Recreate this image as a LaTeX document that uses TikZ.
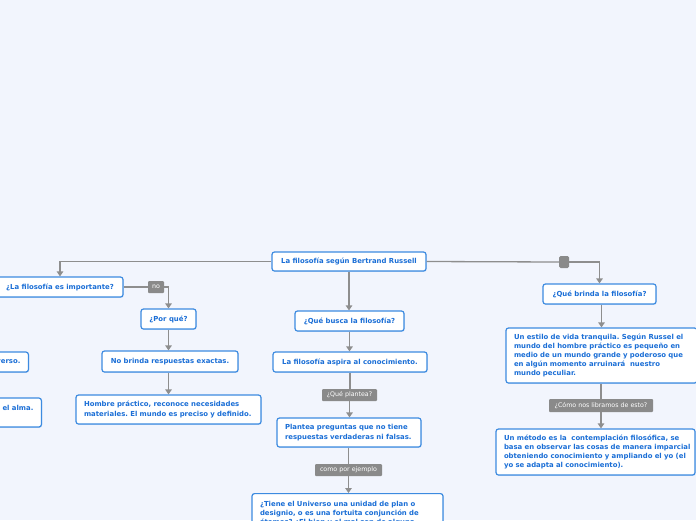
\documentclass[tikz,border=0pt]{standalone}
\usepackage{fontspec}
\setmainfont{DejaVu Sans}
\usetikzlibrary{arrows.meta,shadows}
\definecolor{bg}{HTML}{F2F5FD}
\definecolor{nodeblue}{HTML}{3D8BE0}
\definecolor{txtblue}{HTML}{1A6ED6}
\definecolor{linegray}{HTML}{8E8E8E}
\definecolor{labgray}{HTML}{8A8A8A}
\frenchspacing
\hbadness=10000
\begin{document}
\begin{tikzpicture}[x=1pt,y=-1pt,
  box/.style={draw=nodeblue, line width=1.2pt, fill=white, rounded corners=2.5pt,
    text=txtblue, font=\fontsize{6.9}{9.2}\selectfont\bfseries\frenchspacing, inner xsep=8pt, inner ysep=0pt,
    drop shadow={shadow xshift=0.6pt, shadow yshift=-0.9pt, opacity=0.25, fill=nodeblue}},
  lab/.style={fill=labgray, text=white, rounded corners=1pt,
    font=\fontsize{6.3}{7}\selectfont, inner sep=0pt, minimum height=12pt},
  conn/.style={draw=linegray, line width=1.3pt},
  arr/.style={conn, -{Triangle[width=6.5pt,length=5pt]}}]
\useasboundingbox (0,0) rectangle (696,520);
\clip (0,0) rectangle (696,520);
\fill[bg] (0,0) rectangle (696,520);

% nodes
\node[box, minimum width=154pt, minimum height=19pt] (root) at (349,261.5) {La filosofía según Bertrand Russell};
\node[box, minimum width=126pt, minimum height=20pt] (imp) at (60,287) {¿La filosofía es importante?};
\node[box, minimum width=55pt, minimum height=20pt] (porque) at (168.5,319) {¿Por qué?};
\node[box, minimum width=136pt, minimum height=21pt] (nobrinda) at (170,361.5) {No brinda respuestas exactas.};
\node[box, minimum width=185pt, minimum height=29pt, text width=169pt, align=left] (hombre) at (168.5,409.5)
  {Hombre práctico, reconoce necesidades\\materiales. El mundo es preciso y definido.};
\node[box, minimum width=109pt, minimum height=20pt] (busca) at (349.5,321) {¿Qué busca la filosofía?};
\node[box, minimum width=154pt, minimum height=20pt] (aspira) at (350,362) {La filosofía aspira al conocimiento.};
\node[box, minimum width=144pt, minimum height=29pt, text width=128pt, align=left] (plantea) at (349,432.5)
  {Plantea preguntas que no tiene\\respuestas verdaderas ni falsas.};
\node[box, anchor=north, minimum width=191pt, minimum height=40pt, text width=175pt, align=left, inner ysep=5pt] (tiene) at (347.5,493)
  {¿Tiene el Universo una unidad de plan o\\designio, o es una fortuita conjunción de\\átomos? ¿El bien y el mal son de alguna};
\node[box, minimum width=113pt, minimum height=20pt] (brinda) at (599.5,294) {¿Qué brinda la filosofía?};
\node[box, minimum width=191pt, minimum height=55pt, text width=175pt, align=left] (estilo) at (601.5,355.5)
  {Un estilo de vida tranquila. Según Russel el\\mundo del hombre práctico es pequeño en\\medio de un mundo grande y poderoso que\\en algún momento arruinará~ nuestro\\mundo peculiar.};
\node[box, minimum width=199pt, minimum height=46pt, text width=183pt, align=left] (metodo) at (595.5,452)
  {\mbox{Un método es la~ contemplación filosófica, se}\\\mbox{basa en observar las cosas de manera imparcial}\\\mbox{obteniendo conocimiento y ampliando el yo (el}\\yo se adapta al conocimiento).};
\node[box, anchor=east, minimum height=20pt, text width=113pt, align=right] (verso) at (29,362) {verso.};
\node[box, anchor=east, minimum height=29pt, text width=176pt, align=right] (alma) at (42,412.5) {el alma.\\\mbox{}};

% labels
\node[lab, minimum width=55pt] (qplantea) at (349.5,395) {¿Qué plantea?};
\node[lab, minimum width=67pt] (comopor) at (348.5,470) {como por ejemplo};
\node[lab, minimum width=104pt, minimum height=13pt] (comonos) at (601,405.5) {¿Cómo nos libramos de esto?};
\node[lab, minimum width=16pt] (no) at (156,287) {no};
\node[fill=labgray, rounded corners=1.5pt, minimum width=10pt, minimum height=12pt, inner sep=0pt] (sq) at (564,262) {};

% connectors
\draw[arr] (root.west) -| (imp.north);
\draw[conn] (root.east) -- (sq.west);
\draw[arr] (sq.east) -| (brinda.north);
\draw[conn] (imp.east) -- (no.west);
\draw[arr] (no.east) -| (porque.north);
\draw[arr] (porque.south) -- (porque.south |- nobrinda.north);
\draw[arr] (nobrinda.south -| porque.south) -- (porque.south |- hombre.north);
\draw[arr] (root.south) -- (root.south |- busca.north);
\draw[arr] (busca.south) -- (busca.south |- aspira.north);
\draw[conn] (aspira.south) -- (aspira.south |- qplantea.north);
\draw[arr] (qplantea.south) -- (qplantea.south |- plantea.north);
\draw[conn] (plantea.south -| comopor.north) -- (comopor.north);
\draw[arr] (comopor.south) -- (comopor.south |- tiene.north);
\draw[arr] (brinda.south -| estilo.north) -- (estilo.north);
\draw[conn] (estilo.south -| comonos.north) -- (comonos.north);
\draw[arr] (comonos.south) -- (comonos.south |- metodo.north);
\end{tikzpicture}
\end{document}
